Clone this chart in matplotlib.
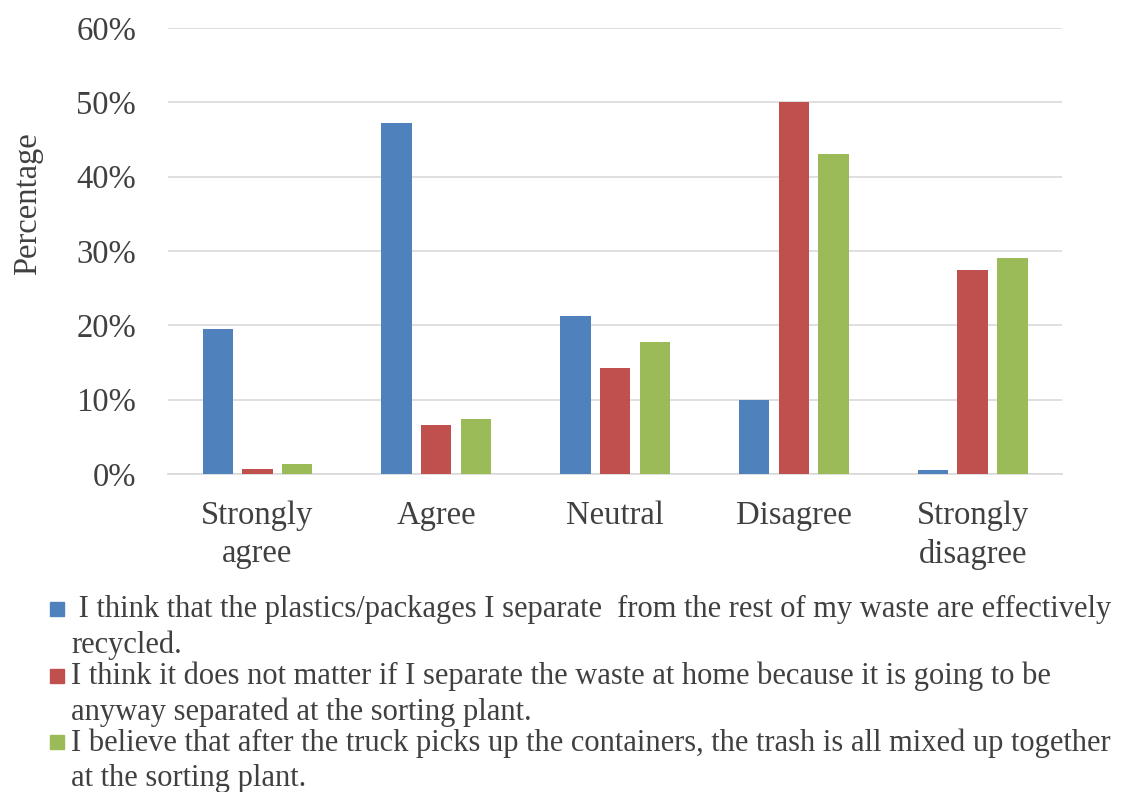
import matplotlib
matplotlib.use("Agg")
import matplotlib.pyplot as plt
import numpy as np
from matplotlib.patches import Rectangle
from matplotlib.ticker import PercentFormatter

# data (fractions)
categories = ["Strongly\nagree", "Agree", "Neutral", "Disagree", "Strongly\ndisagree"]
effectively_recycled = [0.195, 0.472, 0.212, 0.100, 0.006]
does_not_matter = [0.007, 0.066, 0.143, 0.500, 0.274]
all_mixed_up = [0.014, 0.074, 0.177, 0.430, 0.291]
series_labels = [
    " I think that the plastics/packages I separate  from the rest of my waste are effectively\nrecycled.",
    "I think it does not matter if I separate the waste at home because it is going to be\nanyway separated at the sorting plant.",
    "I believe that after the truck picks up the containers, the trash is all mixed up together\nat the sorting plant.",
]
colors = ["#4F81BD", "#C0504D", "#9BBB59"]

plt.rcParams["font.family"] = ["Liberation Serif", "DejaVu Serif"]

fig = plt.figure(figsize=(11.21, 7.92), dpi=100)
ax = fig.add_axes([0.1499, 0.4015, 0.7975, 0.5631])

x = np.arange(len(categories))
width = 0.17
step = 0.222
series = [effectively_recycled, does_not_matter, all_mixed_up]
for i, vals in enumerate(series):
    ax.bar(x + (i - 1) * step, vals, width, color=colors[i], zorder=3)

ax.set_xlim(-0.5, len(categories) - 0.5)
ax.set_ylim(0, 0.6)
ax.set_yticks(np.arange(0, 0.61, 0.1))
ax.yaxis.set_major_formatter(PercentFormatter(1.0, decimals=0))
ax.set_xticks(x)
ax.set_xticklabels(categories, fontsize=23.5, linespacing=1.33)
ax.tick_params(axis="y", length=0, pad=23, labelsize=23.5, labelcolor="#404040")
ax.tick_params(axis="x", length=0, pad=19, labelcolor="#404040")
ax.grid(axis="y", color="#D9D9D9", linewidth=1.2, zorder=0)
for s in ["top", "right", "left"]:
    ax.spines[s].set_visible(False)
ax.spines["bottom"].set_color("#D9D9D9")
ax.spines["bottom"].set_linewidth(1.2)

ax.set_ylabel("Percentage", fontsize=23.5, color="#404040")
ax.yaxis.set_label_coords(-0.14, 0.607)

# legend drawn by hand so the marker sits on the first line
W, H = 1121, 792
for i, lab in enumerate(series_labels):
    yc = 610 + i * 66.5
    fig.patches.append(Rectangle((50 / W, 1 - (yc + 6) / H), 14 / W, 14 / H,
                                 transform=fig.transFigure, color=colors[i]))
    fig.text(71 / W, 1 - (yc + 17.5) / H, lab, fontsize=22, color="#404040",
             va="center", ha="left", linespacing=1.27)

fig.savefig("out.png", dpi=100)
